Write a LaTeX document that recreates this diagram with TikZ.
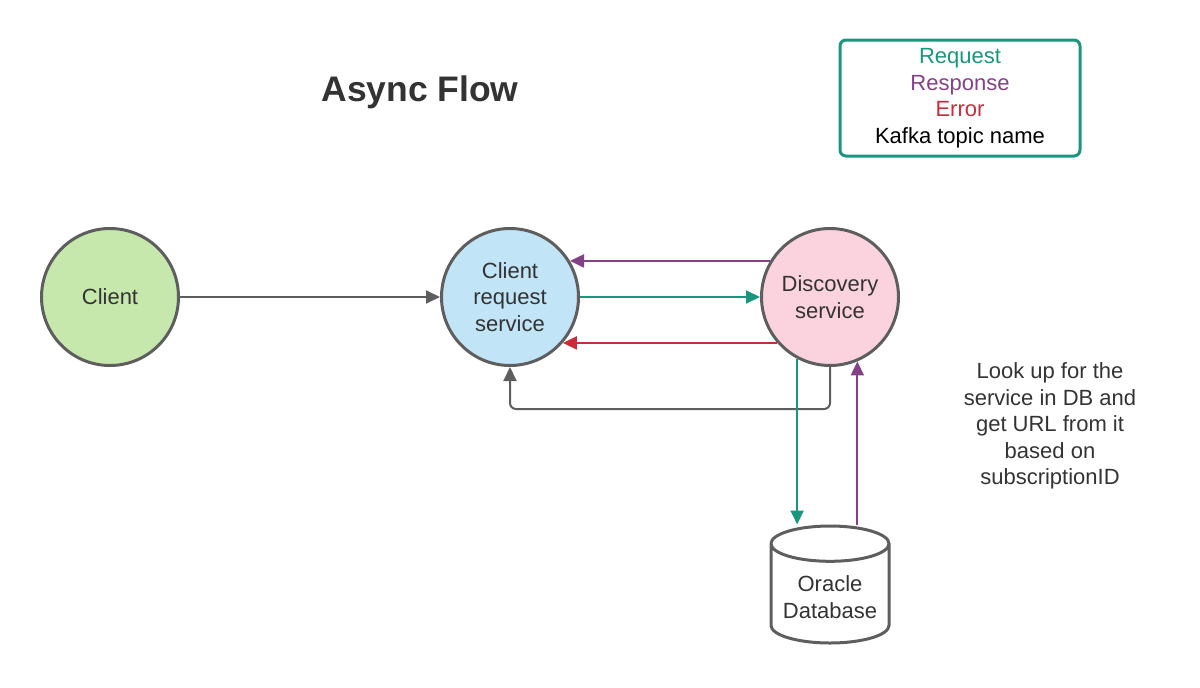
\documentclass[tikz,border=0pt]{standalone}
\usepackage{fontspec}
\setmainfont{Liberation Sans}
\usetikzlibrary{arrows.meta,shapes.geometric}
\definecolor{reqteal}{HTML}{19967D}
\definecolor{respurple}{HTML}{834187}
\definecolor{errred}{HTML}{C92D39}
\definecolor{linegray}{HTML}{5E5E5E}
\definecolor{textgray}{HTML}{333333}
\definecolor{clientgreen}{HTML}{C7E8AC}
\definecolor{crsblue}{HTML}{C1E4F7}
\definecolor{discpink}{HTML}{FAD3DF}

\begin{document}
\begin{tikzpicture}[x=1pt,y=-1pt,
   every node/.style={font=\fontsize{22}{26.5}\selectfont,text=textgray},
   service/.style={circle,draw=linegray,line width=3pt,minimum size=137pt,align=center},
   flow/.style={line width=2pt,-{Triangle[length=14pt,width=13pt]}}]
\useasboundingbox (0,0) rectangle (1200,688);
% title and legend
\node[font=\bfseries\fontsize{35.5}{40}\selectfont] (title) at (420,92) {Async Flow};
\node[draw=reqteal,line width=3pt,rounded corners=6pt,minimum width=240pt,
  minimum height=116pt,align=center] (legend) at (960,98)
  {\textcolor{reqteal}{Request}\\\textcolor{respurple}{Response}\\
   \textcolor{errred}{Error}\\\textcolor{black}{Kafka topic name}};
% services
\node[service,fill=clientgreen] (client) at (110,297) {Client};
\node[service,fill=crsblue] (crs) at (510,297) {Client\\request\\service};
\node[service,fill=discpink] (disc) at (830,297) {Discovery\\service};
\node[cylinder,shape border rotate=90,draw=linegray,line width=3pt,
  minimum width=118pt,minimum height=117pt,aspect=0.35,align=center] (db) at (830,597)
  {Oracle\\Database};
\node[align=center] (note) at (1050,426)
  {Look up for the\\service in DB and\\get URL from it\\based on\\subscriptionID};
% connectors
\draw[flow,linegray] (client) -- (crs);
\draw[flow,respurple] (disc.149) -- (crs.31);
\draw[flow,reqteal] (crs) -- (disc);
\draw[flow,errred] (disc.221) -- (crs.-41);
\draw[flow,linegray,rounded corners=6pt] (disc.south) -- ++(0,42) -| (crs.south);
\draw[flow,reqteal] (disc.242) -- (disc.242 |- db.top);
\draw[flow,respurple] (db.top -| disc.-67) -- (disc.-67);
\end{tikzpicture}
\end{document}
